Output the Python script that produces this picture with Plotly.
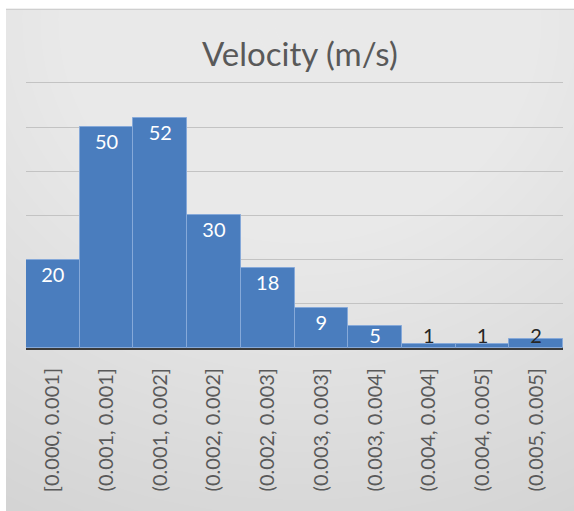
import plotly.graph_objects as go

# Histogram of measured velocities, binned in m/s
bins = ["[0.000, 0.001]", "(0.001, 0.001]", "(0.001, 0.002]", "(0.002, 0.002]",
        "(0.002, 0.003]", "(0.003, 0.003]", "(0.003, 0.004]", "(0.004, 0.004]",
        "(0.004, 0.005]", "(0.005, 0.005]"]
counts = [20, 50, 52, 30, 18, 9, 5, 1, 1, 2]

W, H = 574, 511
Y_MAX = 62          # a little headroom so the 60 gridline is drawn
ML, MR, MB = 26, 11, 163
PX_PER_UNIT = 265 / 60
PH = Y_MAX * PX_PER_UNIT
MT = H - MB - PH
PW = W - ML - MR


def px_x(px):
    return (px - ML) / PW


def px_y(py):
    return (H - MB - py) / PH


# Label centre sits a fixed pixel distance below the bar top, but never below the axis
label_y = [max(c - 17 / PX_PER_UNIT, 10 / PX_PER_UNIT) for c in counts]
label_colors = ["white" if c >= 5 else "#262626" for c in counts]

fig = go.Figure()
fig.add_trace(go.Bar(
    x=bins, y=counts,
    marker=dict(color="#4a7dbe", line=dict(color="#86a9d9", width=1)),
    hoverinfo="x+y",
))
fig.add_trace(go.Scatter(
    x=bins, y=label_y, mode="text", text=[str(c) for c in counts],
    textfont=dict(family="Lato, Open Sans, sans-serif", size=20, color=label_colors),
    hoverinfo="skip", showlegend=False,
))

# Chart-area background: grey panel with a soft light glow at the top centre
shapes = [dict(type="rect", xref="paper", yref="paper", layer="below",
               x0=px_x(6), x1=px_x(W), y0=px_y(H), y1=px_y(9),
               fillcolor="#d3d3d3", line=dict(width=0))]
cx, cy = 300, 20
n = 34
for i in range(n):
    rx = 620 - i * 18
    ry = 560 - i * 16
    shapes.append(dict(type="circle", xref="paper", yref="paper", layer="below",
                       x0=px_x(cx - rx), x1=px_x(cx + rx),
                       y0=px_y(cy + ry), y1=px_y(cy - ry),
                       fillcolor="white", opacity=0.045, line=dict(width=0)))
# white margin outside the panel (covers the glow that spills past its edges)
shapes.append(dict(type="rect", xref="paper", yref="paper", layer="below",
                   x0=px_x(-50), x1=px_x(6), y0=px_y(H + 50), y1=px_y(-50),
                   fillcolor="white", line=dict(width=0)))
shapes.append(dict(type="rect", xref="paper", yref="paper", layer="below",
                   x0=px_x(-50), x1=px_x(W + 50), y0=px_y(9), y1=px_y(-50),
                   fillcolor="white", line=dict(width=0)))
# thin edge along the top of the panel
shapes.append(dict(type="line", xref="paper", yref="paper", layer="below",
                   x0=px_x(6), x1=px_x(W), y0=px_y(9.5), y1=px_y(9.5),
                   line=dict(color="#c8c8c8", width=1)))

fig.update_layout(
    width=W, height=H,
    margin=dict(l=ML, r=MR, t=MT, b=MB),
    paper_bgcolor="white", plot_bgcolor="rgba(0,0,0,0)",
    bargap=0, showlegend=False,
    shapes=shapes,
    font=dict(family="Lato, Open Sans, sans-serif", color="#595959"),
    annotations=[dict(text="Velocity (m/s)", xref="paper", yref="paper",
                      x=px_x(300), y=px_y(53), showarrow=False,
                      xanchor="center", yanchor="middle",
                      font=dict(size=33, color="#595959"))],
    xaxis=dict(type="category", tickangle=-90, ticks="outside", ticklen=11,
               tickcolor="rgba(0,0,0,0)", tickfont=dict(size=20, color="#595959"),
               showgrid=False, showline=False, zeroline=False),
    yaxis=dict(range=[0, Y_MAX], tickvals=[10, 20, 30, 40, 50, 60],
               showticklabels=False,
               showgrid=True, gridcolor="#c3c3c3", gridwidth=1,
               zeroline=True, zerolinecolor="#3a3a3a", zerolinewidth=3,
               showline=False),
)

fig.write_html("out.html")
